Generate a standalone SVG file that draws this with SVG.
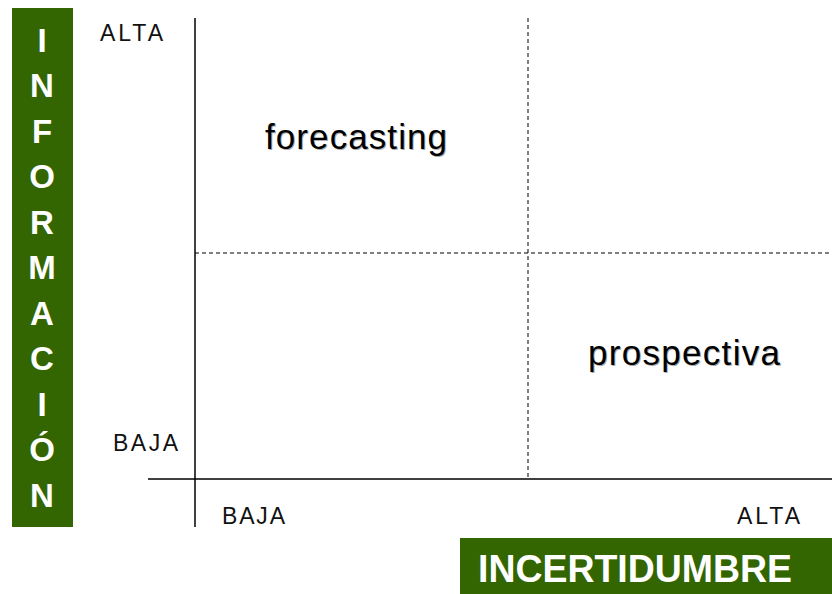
<svg xmlns="http://www.w3.org/2000/svg" width="832" height="594" viewBox="0 0 832 594">
<style>
.bar{fill:#336600}
.vl{font-family:"Liberation Sans",Arial,sans-serif;font-weight:bold;font-size:33px;fill:#ffffff;text-anchor:middle}
.ax{stroke:#000;stroke-width:1.5;fill:none}
.da{stroke:#000;stroke-width:1;stroke-dasharray:4 3;fill:none}
.lv{font-family:"Liberation Sans",Arial,sans-serif;font-size:23px;fill:#111}
.big{font-family:"Liberation Sans",Arial,sans-serif;font-size:35px;fill:#000}
.sh{font-family:"Liberation Sans",Arial,sans-serif;font-size:35px;fill:#aaa}
.ti{font-family:"Liberation Sans",Arial,sans-serif;font-weight:bold;font-size:38px;fill:#fff}
</style>
<rect width="832" height="594" fill="#fff"/>
<g id="informacion">
<rect class="bar" x="12" y="8" width="61" height="519"/>
<text class="vl" x="42" y="52">I</text>
<text class="vl" x="42" y="97">N</text>
<text class="vl" x="42" y="143">F</text>
<text class="vl" x="42" y="188">O</text>
<text class="vl" x="42" y="234">R</text>
<text class="vl" x="42" y="279">M</text>
<text class="vl" x="42" y="325">A</text>
<text class="vl" x="42" y="370">C</text>
<text class="vl" x="42" y="416">I</text>
<text class="vl" x="42" y="461">Ó</text>
<text class="vl" x="42" y="507">N</text>
</g>
<g id="connectors">
<line class="ax" x1="195" y1="18" x2="195" y2="527"/>
<line class="ax" x1="148" y1="479" x2="832" y2="479"/>
<line class="da" x1="528" y1="18" x2="528" y2="479"/>
<line class="da" x1="195" y1="253" x2="832" y2="253"/>
</g>
<g id="labels">
<text class="lv" x="100" y="41" textLength="63" lengthAdjust="spacing">ALTA</text>
<text class="lv" x="113" y="451" textLength="65" lengthAdjust="spacing">BAJA</text>
<text class="lv" x="222" y="524" textLength="63" lengthAdjust="spacing">BAJA</text>
<text class="lv" x="737" y="524" textLength="63" lengthAdjust="spacing">ALTA</text>
</g>
<g id="forecasting">
<text class="sh" x="266" y="150" textLength="182" lengthAdjust="spacing">forecasting</text>
<text class="big" x="265" y="149" textLength="182" lengthAdjust="spacing">forecasting</text>
</g>
<g id="prospectiva">
<text class="sh" x="589" y="366" textLength="192" lengthAdjust="spacing">prospectiva</text>
<text class="big" x="588" y="365" textLength="192" lengthAdjust="spacing">prospectiva</text>
</g>
<g id="incertidumbre">
<rect class="bar" x="460" y="538" width="372" height="56"/>
<text class="ti" x="478" y="582" textLength="314" lengthAdjust="spacingAndGlyphs">INCERTIDUMBRE</text>
</g>
</svg>
